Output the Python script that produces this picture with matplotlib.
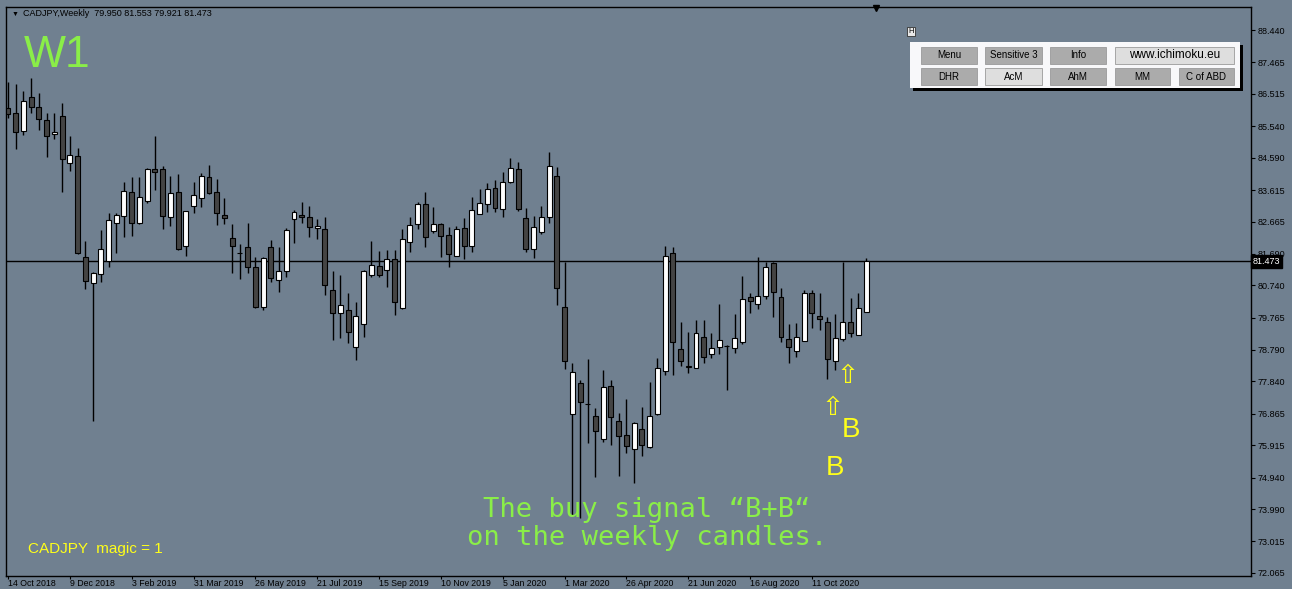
import matplotlib
matplotlib.use('Agg')
import matplotlib.pyplot as plt
from matplotlib.patches import Rectangle
from matplotlib.lines import Line2D
import numpy as np
import pandas as pd

# weekly CADJPY candles, first bar = week of 14 Oct 2018
opens = [86.10, 85.93, 85.39, 86.43, 86.13, 85.73, 85.30, 85.85, 84.42, 84.64,
         81.59, 80.82, 81.07, 81.48, 82.63, 82.83, 83.56, 82.63, 83.29, 84.24,
         84.24, 82.81, 83.56, 81.93, 83.13, 83.36, 84.02, 83.55, 82.86, 82.16,
         81.73, 81.89, 81.30, 80.08, 81.89, 80.90, 81.17, 82.73, 82.86, 82.81,
         82.46, 82.43, 80.60, 79.91, 79.99, 78.89, 79.57, 81.05, 81.32, 81.20,
         81.52, 80.05, 82.06, 82.58, 83.19, 82.38, 82.58, 82.26, 81.62, 82.46,
         81.93, 82.89, 83.19, 83.68, 83.03, 83.87, 84.24, 82.76, 81.84, 82.36,
         82.79, 84.04, 80.08, 76.86, 77.80, 77.16, 76.80, 76.10, 77.71, 76.66,
         76.23, 75.80, 76.40, 75.86, 76.86, 78.17, 81.71, 78.81, 78.27, 78.26,
         79.17, 78.67, 78.87, 78.91, 78.84, 79.04, 80.38, 80.18, 80.42, 81.42,
         80.38, 79.11, 78.76, 79.07, 80.50, 79.81, 79.64, 78.47, 79.11, 79.64,
         79.24, 79.950]
highs = [86.88, 86.81, 86.61, 86.98, 86.55, 85.93, 85.95, 86.25, 85.24, 84.87,
         82.09, 81.14, 82.41, 82.91, 82.93, 83.87, 84.00, 84.00, 84.27, 85.24,
         84.34, 84.04, 84.10, 82.99, 83.87, 84.12, 84.37, 83.94, 83.38, 82.59,
         81.99, 82.61, 81.60, 81.60, 82.11, 81.89, 82.46, 83.01, 83.26, 83.13,
         82.73, 82.81, 81.18, 81.05, 80.52, 80.25, 81.20, 82.09, 81.78, 81.82,
         81.82, 82.43, 82.79, 83.26, 83.56, 83.11, 82.63, 82.51, 82.53, 82.76,
         83.39, 83.64, 83.83, 83.92, 84.15, 84.57, 84.47, 83.06, 82.83, 83.14,
         84.75, 84.32, 81.45, 78.39, 77.88, 78.51, 77.03, 78.19, 77.88, 76.90,
         77.30, 76.63, 77.08, 77.83, 78.54, 81.93, 81.89, 79.64, 79.34, 79.69,
         79.69, 79.29, 80.17, 78.95, 79.88, 81.02, 80.52, 81.60, 81.45, 81.45,
         80.65, 79.57, 79.59, 80.60, 80.60, 80.50, 79.79, 79.88, 81.45, 80.35,
         80.50, 81.553]
lows = [85.80, 84.84, 85.27, 85.95, 85.42, 84.62, 85.14, 83.56, 84.19, 81.68,
        80.64, 76.65, 80.85, 81.30, 81.72, 82.19, 82.23, 82.59, 83.21, 83.61,
        82.43, 82.53, 81.81, 81.62, 82.91, 83.11, 83.49, 82.56, 82.59, 81.10,
        80.93, 81.12, 80.05, 80.00, 80.85, 80.55, 80.98, 82.01, 82.61, 82.19,
        82.13, 80.45, 79.09, 79.14, 79.01, 78.49, 79.19, 81.00, 80.98, 80.68,
        79.85, 80.03, 81.75, 82.43, 81.91, 82.31, 81.60, 81.28, 81.62, 81.53,
        81.75, 82.89, 82.96, 82.96, 82.79, 83.84, 82.99, 81.75, 81.57, 82.29,
        82.63, 80.15, 78.21, 73.81, 73.72, 75.98, 74.95, 76.03, 75.93, 74.99,
        75.67, 74.78, 75.59, 75.83, 76.83, 78.04, 78.04, 78.31, 78.11, 78.24,
        78.39, 78.54, 78.67, 77.58, 78.69, 78.97, 79.90, 80.02, 80.32, 79.80,
        79.04, 78.39, 78.57, 79.07, 79.44, 79.39, 77.91, 78.19, 79.07, 79.19,
        79.24, 79.921]
closes = [85.90, 85.37, 86.31, 86.13, 85.75, 85.25, 85.36, 84.54, 84.67, 81.71,
          80.87, 81.12, 81.83, 82.71, 82.87, 83.59, 82.63, 83.39, 84.24, 84.15,
          82.83, 83.53, 81.84, 82.99, 83.46, 84.04, 83.53, 82.93, 82.78, 81.93,
          81.72, 81.30, 80.10, 81.56, 80.95, 81.17, 82.41, 82.96, 82.81, 82.49,
          82.52, 80.75, 79.91, 80.15, 79.34, 79.81, 81.18, 81.35, 81.05, 81.52,
          80.25, 82.13, 82.56, 83.19, 82.21, 82.58, 82.23, 81.68, 82.43, 81.93,
          83.01, 83.21, 83.65, 83.08, 83.87, 84.27, 83.03, 81.84, 82.49, 82.81,
          84.34, 80.65, 78.47, 78.12, 77.21, 77.15, 76.35, 77.66, 76.78, 76.21,
          75.89, 76.58, 75.93, 76.81, 78.24, 81.63, 79.04, 78.47, 78.32, 79.29,
          78.57, 78.84, 79.09, 78.91, 79.14, 80.34, 80.28, 80.42, 81.30, 80.55,
          79.17, 78.87, 79.17, 80.50, 79.90, 79.73, 78.52, 79.14, 79.64, 79.29,
          80.05, 81.473]

bid = 81.473
price_ticks = [88.440, 87.465, 86.515, 85.540, 84.590, 83.615, 82.665, 81.690, 80.740,
               79.765, 78.790, 77.840, 76.865, 75.915, 74.940, 73.990, 73.015, 72.065]
date_ticks = ["14 Oct 2018", "9 Dec 2018", "3 Feb 2019", "31 Mar 2019", "26 May 2019",
              "21 Jul 2019", "15 Sep 2019", "10 Nov 2019", "5 Jan 2020", "1 Mar 2020",
              "26 Apr 2020", "21 Jun 2020", "16 Aug 2020", "11 Oct 2020"]

W, H = 1292, 589
BG = '#708090'
GREEN = '#8aee48'
YELLOW = '#ffff1a'
SANS = ['Liberation Sans', 'DejaVu Sans']


def fx(x):
    return x / W


def fy(y):
    return 1 - y / H


weeks = pd.date_range('2018-10-14', periods=len(closes), freq='7D')
week_labels = [f"{d.day} {d:%b %Y}" for d in weeks]
tick_pos = [week_labels.index(t) for t in date_ticks]

fig = plt.figure(figsize=(W / 100, H / 100), dpi=100, facecolor=BG)
ax = fig.add_axes([fx(6), fy(576), 1245 / W, 569 / H], facecolor=BG)

idx = np.arange(len(closes))
o = np.array(opens)
c = np.array(closes)
bull = c >= o

ax.vlines(idx, lows, highs, color='black', linewidth=1, zorder=2)
ax.bar(idx, np.abs(c - o), bottom=np.minimum(o, c), width=0.64,
       color=np.where(bull, 'white', '#444444'), edgecolor='black',
       linewidth=0.8, zorder=3)

ax.axhline(bid, color='black', linewidth=1, zorder=1)

ax.set_xlim(-0.26, 160.8)
ax.set_ylim(71.974, 89.134)

for s in ax.spines.values():
    s.set_color('black')
    s.set_linewidth(1)

ax.yaxis.tick_right()
ax.set_yticks(price_ticks)
ax.set_yticklabels([f"{p:.3f}" for p in price_ticks], family=SANS, fontsize=6.5)
ax.set_xticks(tick_pos)
ax.set_xticklabels(date_ticks, family=SANS, fontsize=6.3, ha='left')
ax.tick_params(axis='y', direction='out', length=3, width=0.8, color='black',
               labelcolor='black', pad=1.5)
ax.tick_params(axis='x', direction='out', length=2, width=0.8, color='black',
               labelcolor='black', pad=0.3)

# bid price tag on the scale
ax.text(1.0015, bid, f"{bid:.3f}", transform=ax.get_yaxis_transform(),
        ha='left', va='center', fontsize=6.5, family=SANS, color='white',
        bbox=dict(boxstyle='square,pad=0.22', fc='black', ec='black'),
        clip_on=False, zorder=10)

# header
fig.text(fx(12), fy(14), "\u25bc", fontsize=5, family=SANS, va='center', ha='left')
fig.text(fx(23), fy(14), "CADJPY,Weekly  79.950 81.553 79.921 81.473",
         fontsize=6.5, family=SANS, va='center', ha='left')
fig.add_artist(Line2D([fx(876)], [fy(8)], marker='v', markersize=5, color='black',
                      transform=fig.transFigure))

fig.text(fx(24), fy(67), "W1", fontsize=32, family=SANS, color=GREEN,
         va='baseline', ha='left')
fig.text(fx(28), fy(553), "CADJPY  magic = 1", fontsize=11, family=SANS, color=YELLOW,
         va='baseline', ha='left')

fig.text(fx(647), fy(517), "The buy signal \u201cB+B\u201c", fontsize=19.5,
         family='DejaVu Sans Mono', color=GREEN, va='baseline', ha='center')
fig.text(fx(647), fy(545), "on the weekly candles.", fontsize=19.5,
         family='DejaVu Sans Mono', color=GREEN, va='baseline', ha='center')

# signal arrows and letters
for (x, y) in [(848, 376), (833, 408)]:
    fig.text(fx(x), fy(y), "\u21e7", fontsize=19, family='DejaVu Sans', color=YELLOW,
             va='center', ha='center')
for (x, y) in [(842, 437), (826, 475)]:
    fig.text(fx(x), fy(y), "B", fontsize=20, family=SANS, color=YELLOW,
             va='baseline', ha='left')

# button panel
fig.add_artist(Rectangle((fx(913), fy(91)), 330 / W, 46 / H, transform=fig.transFigure,
                         fc='black', ec='none', zorder=5))
fig.add_artist(Rectangle((fx(910), fy(88)), 330 / W, 46 / H, transform=fig.transFigure,
                         fc='#f8f8fa', ec='none', zorder=6))
fig.add_artist(Rectangle((fx(907), fy(36)), 8 / W, 9 / H, transform=fig.transFigure,
                         fc='#e8e8e8', ec='#333333', lw=0.6, zorder=6))
fig.text(fx(911), fy(31.5), "H", fontsize=5.5, family=SANS, ha='center', va='center',
         zorder=7)

buttons = [
    ("Menu", 921, 47, 56, '#ababab', 7),
    ("Sensitive 3", 985, 47, 57, '#ababab', 7),
    ("Info", 1050, 47, 56, '#ababab', 7),
    ("www.ichimoku.eu", 1115, 47, 119, '#dedede', 8.5),
    ("DHR", 921, 68, 56, '#ababab', 7),
    ("AcM", 985, 68, 57, '#dedede', 7),
    ("AhM", 1050, 68, 56, '#ababab', 7),
    ("MM", 1115, 68, 55, '#ababab', 7),
    ("C of ABD", 1179, 68, 55, '#ababab', 7),
]
for label, x, y, w, col, fs in buttons:
    fig.add_artist(Rectangle((fx(x), fy(y + 17)), w / W, 17 / H,
                             transform=fig.transFigure, fc=col, ec='#9a9a9a',
                             lw=0.6, zorder=7))
    fig.text(fx(x + w / 2), fy(y + 8.5), label, fontsize=fs, family=SANS,
             ha='center', va='center', color='black', zorder=8)

fig.savefig('out.png', dpi=100, facecolor=BG)
